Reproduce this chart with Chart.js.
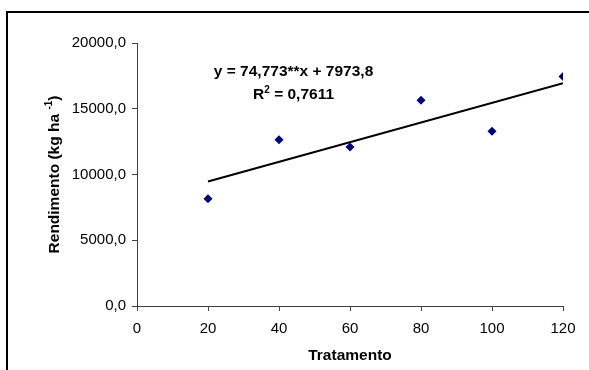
<!DOCTYPE html>
<html>
<head>
<meta charset="utf-8">
<script src="https://cdn.jsdelivr.net/npm/chart.js@4.4.0/dist/chart.umd.min.js"></script>
<style>
  html, body { margin: 0; padding: 0; background: #fff; overflow: hidden; }
  canvas { display: block; }
</style>
</head>
<body>
<canvas id="c" width="589" height="370"></canvas>
<script>
// Data
const tratamento = [20, 40, 60, 80, 100, 120];
const rendimento = [8160, 12650, 12090, 15640, 13280, 17460];
// Trend line endpoints (linear fit shown in chart)
const trendX = [20, 120];
const trendY = [9469, 16946];
const xTicks = [0, 20, 40, 60, 80, 100, 120];
const yTicks = [0, 5000, 10000, 15000, 20000];
const equationText = "y = 74,773**x + 7973,8";
const r2Base = "R";
const r2Sup = "2";
const r2Rest = " = 0,7611";
const xTitle = "Tratamento";
const yTitleBase = "Rendimento (kg ha ";
const yTitleSup = "-1";
const yTitleEnd = ")";

const FONT = "'Liberation Sans', Arial, sans-serif";
const TITLE_SIZE = 15.5;

function drawSupText(ctx, parts, cx, cy, size) {
  const big = 'bold ' + size + 'px ' + FONT;
  const small = 'bold ' + Math.round(size * 0.62) + 'px ' + FONT;
  let total = 0;
  parts.forEach(p => { ctx.font = p[1] ? small : big; total += ctx.measureText(p[0]).width; });
  let x = cx - total / 2;
  ctx.textAlign = 'left';
  ctx.textBaseline = 'alphabetic';
  const base = cy + size * 0.36;
  parts.forEach(p => {
    ctx.font = p[1] ? small : big;
    ctx.fillText(p[0], x, p[1] ? base - size * 0.42 : base);
    x += ctx.measureText(p[0]).width;
  });
}

const framePlugin = {
  id: 'frame',
  beforeDraw(chart) {
    const ctx = chart.ctx;
    ctx.save();
    ctx.fillStyle = '#fff';
    ctx.fillRect(0, 0, chart.width, chart.height);
    ctx.fillStyle = '#000';
    ctx.fillRect(6, 11, 2, chart.height - 11);
    ctx.fillRect(6, 11, chart.width - 6, 2);
    ctx.restore();
  }
};

const textPlugin = {
  id: 'texts',
  afterDraw(chart) {
    const ctx = chart.ctx;
    const ca = chart.chartArea;
    const xs = chart.scales.x, ys = chart.scales.y;
    ctx.save();
    ctx.fillStyle = '#000';
    ctx.font = 'bold ' + TITLE_SIZE + 'px ' + FONT;
    ctx.textAlign = 'center';
    ctx.textBaseline = 'middle';
    ctx.fillText(equationText, xs.getPixelForValue(44.1), ys.getPixelForValue(17820));
    drawSupText(ctx, [[r2Base, false], [r2Sup, true], [r2Rest, false]],
      xs.getPixelForValue(44.1), ys.getPixelForValue(16150), TITLE_SIZE);
    ctx.font = 'bold ' + TITLE_SIZE + 'px ' + FONT;
    ctx.textAlign = 'center';
    ctx.textBaseline = 'middle';
    ctx.fillText(xTitle, (ca.left + ca.right) / 2, 356);
    ctx.translate(53, (ca.top + ca.bottom) / 2);
    ctx.rotate(-Math.PI / 2);
    drawSupText(ctx, [[yTitleBase, false], [yTitleSup, true], [yTitleEnd, false]], 0, 0, TITLE_SIZE);
    ctx.restore();
  }
};

new Chart(document.getElementById('c'), {
  type: 'scatter',
  data: {
    datasets: [
      {
        label: 'Rendimento',
        data: tratamento.map((x, i) => ({ x: x, y: rendimento[i] })),
        pointStyle: 'rectRot',
        pointRadius: 4.5,
        pointHoverRadius: 4.5,
        backgroundColor: '#000080',
        borderColor: '#000080',
        borderWidth: 0,
        order: 1
      },
      {
        label: 'Linear',
        type: 'line',
        data: trendX.map((x, i) => ({ x: x, y: trendY[i] })),
        borderColor: '#000',
        borderWidth: 2,
        pointRadius: 0,
        fill: false,
        order: 2
      }
    ]
  },
  options: {
    responsive: false,
    animation: false,
    devicePixelRatio: 1,
    layout: { padding: { left: 0, top: 43, right: 26, bottom: 0 } },
    plugins: { legend: { display: false }, tooltip: { enabled: false } },
    scales: {
      x: {
        type: 'linear',
        min: 0, max: 120,
        afterFit(s) { s.height = 64; },
        afterBuildTicks(s) { s.ticks = xTicks.map(v => ({ value: v })); },
        grid: { display: true, drawOnChartArea: false, drawTicks: true, tickLength: 5, color: '#404040', lineWidth: 1 },
        border: { display: true, color: '#404040', width: 1 },
        ticks: { color: '#000', font: { family: FONT, size: 15 }, padding: 9, maxRotation: 0 }
      },
      y: {
        type: 'linear',
        min: 0, max: 20000,
        afterFit(s) { s.width = 137; },
        afterBuildTicks(s) { s.ticks = yTicks.map(v => ({ value: v })); },
        grid: { display: true, drawOnChartArea: false, drawTicks: true, tickLength: 5, color: '#404040', lineWidth: 1 },
        border: { display: true, color: '#404040', width: 1 },
        ticks: { color: '#000', font: { family: FONT, size: 15 }, padding: 6,
          callback: v => Number(v).toFixed(1).replace('.', ',') }
      }
    }
  },
  plugins: [framePlugin, textPlugin]
});
</script>
</body>
</html>
